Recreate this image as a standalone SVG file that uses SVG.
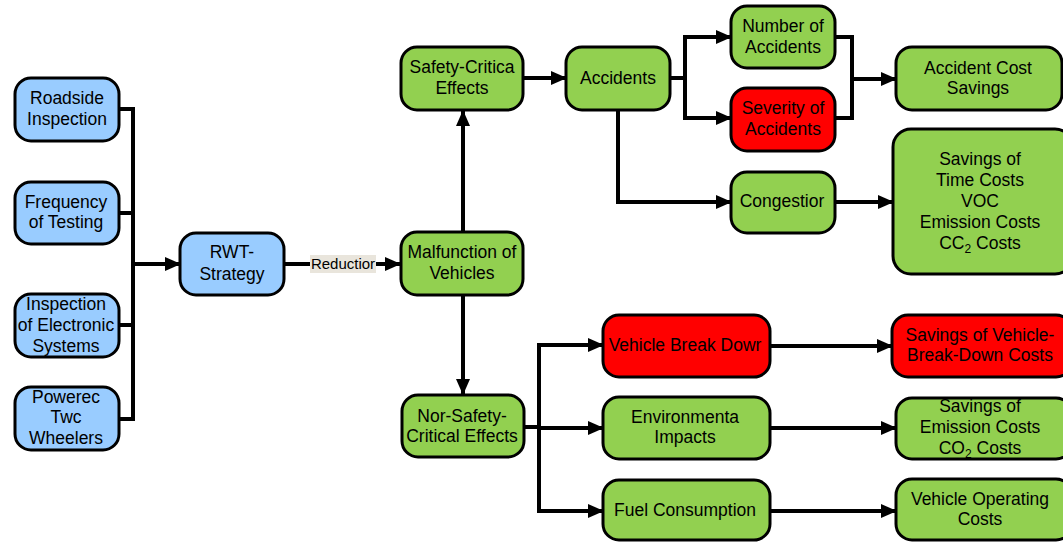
<svg xmlns="http://www.w3.org/2000/svg" width="1063" height="542" viewBox="0 0 1063 542">
  <defs>
    <marker id="arrow" markerUnits="userSpaceOnUse" markerWidth="16" markerHeight="16" viewBox="0 0 16 16" refX="15" refY="8" orient="auto">
      <path d="M0,1 L16,8 L0,15 Z" fill="#000"/>
    </marker>
    <style>
      .node rect { stroke: #000; stroke-width: 3; }
      .blue rect { fill: #99ccff; }
      .green rect { fill: #92d050; }
      .red rect { fill: #ff0000; }
      text { font-family: "Liberation Sans", Arial, sans-serif; font-size: 17.5px; fill: #000; text-anchor: middle; }
      .conn path, .conn line { fill: none; stroke: #000; stroke-width: 4; }
      .sub { font-size: 12px; }
    </style>
  </defs>

  <rect width="1063" height="542" fill="#fff"/>

  <!-- connectors -->
  <g id="connectors" class="conn">
    <!-- inputs into the bus -->
    <path d="M119,109 H133 M119,213 H133 M119,325 H133 M119,419 H133 M133,107 V421"/>
    <line x1="133" y1="264" x2="180" y2="264" marker-end="url(#arrow)"/>
    <!-- RWT-Strategy to malfunction -->
    <line x1="285" y1="264" x2="400" y2="264" marker-end="url(#arrow)"/>
    <!-- malfunction up / down -->
    <line x1="463" y1="232" x2="463" y2="111" marker-end="url(#arrow)"/>
    <line x1="463" y1="296" x2="463" y2="394" marker-end="url(#arrow)"/>
    <!-- safety-critical to accidents -->
    <line x1="524" y1="78" x2="566" y2="78" marker-end="url(#arrow)"/>
    <!-- accidents fan out -->
    <path d="M670,78 H685 M685,35 V120"/>
    <line x1="685" y1="37" x2="731" y2="37" marker-end="url(#arrow)"/>
    <line x1="685" y1="118" x2="731" y2="118" marker-end="url(#arrow)"/>
    <!-- merge into accident cost savings -->
    <path d="M835,37 H852 V118 H835"/>
    <line x1="852" y1="79" x2="896" y2="79" marker-end="url(#arrow)"/>
    <!-- accidents to congestion -->
    <path d="M618,110 V202 H731" marker-end="url(#arrow)"/>
    <line x1="835" y1="202" x2="893" y2="202" marker-end="url(#arrow)"/>
    <!-- non-safety-critical fan out -->
    <path d="M524,427 H539 M539,343 V513"/>
    <line x1="539" y1="345" x2="603" y2="345" marker-end="url(#arrow)"/>
    <line x1="539" y1="428" x2="603" y2="428" marker-end="url(#arrow)"/>
    <line x1="539" y1="511" x2="603" y2="511" marker-end="url(#arrow)"/>
    <!-- effects to savings -->
    <line x1="770" y1="346" x2="892" y2="346" marker-end="url(#arrow)"/>
    <line x1="770" y1="428" x2="896" y2="428" marker-end="url(#arrow)"/>
    <line x1="770" y1="511" x2="896" y2="511" marker-end="url(#arrow)"/>
  </g>

  <!-- edge label -->
  <g id="label-reduction">
    <rect x="310" y="255" width="66" height="18" fill="#e9e5dc"/>
    <text x="343" y="269" style="font-size:15px">Reductior</text>
  </g>

  <!-- input nodes -->
  <g id="roadside" class="node blue">
    <rect x="15" y="78" width="104" height="63" rx="16"/>
    <text x="67" y="104">Roadside</text>
    <text x="67" y="125">Inspection</text>
  </g>
  <g id="frequency" class="node blue">
    <rect x="15" y="182" width="104" height="62" rx="16"/>
    <text x="66" y="208">Frequency</text>
    <text x="66" y="228">of Testing</text>
  </g>
  <g id="electronic" class="node blue">
    <rect x="15" y="294" width="104" height="63" rx="16"/>
    <text x="66" y="310">Inspection</text>
    <text x="66" y="331">of Electronic</text>
    <text x="66" y="352">Systems</text>
  </g>
  <g id="ptw" class="node blue">
    <rect x="15" y="387" width="104" height="63" rx="16"/>
    <text x="66" y="403">Powerec</text>
    <text x="66" y="423">Twc</text>
    <text x="66" y="444">Wheelers</text>
  </g>
  <g id="rwt" class="node blue">
    <rect x="180" y="233" width="104" height="62" rx="16"/>
    <text x="232" y="258">RWT-</text>
    <text x="232" y="280">Strategy</text>
  </g>

  <!-- central nodes -->
  <g id="malfunction" class="node green">
    <rect x="401" y="232" width="122" height="63" rx="16"/>
    <text x="462" y="258">Malfunction of</text>
    <text x="462" y="279">Vehicles</text>
  </g>
  <g id="safety-critical" class="node green">
    <rect x="401" y="47" width="122" height="63" rx="16"/>
    <text x="462" y="73">Safety-Critica</text>
    <text x="462" y="94">Effects</text>
  </g>
  <g id="non-safety-critical" class="node green">
    <rect x="402" y="395" width="122" height="62" rx="16"/>
    <text x="462" y="422">Nor-Safety-</text>
    <text x="462" y="442">Critical Effects</text>
  </g>

  <!-- safety-critical branch -->
  <g id="accidents" class="node green">
    <rect x="566" y="47" width="104" height="63" rx="16"/>
    <text x="618" y="84">Accidents</text>
  </g>
  <g id="number" class="node green">
    <rect x="731" y="6" width="104" height="62" rx="16"/>
    <text x="783" y="32">Number of</text>
    <text x="783" y="53">Accidents</text>
  </g>
  <g id="severity" class="node red">
    <rect x="731" y="88" width="104" height="63" rx="16"/>
    <text x="783" y="114">Severity of</text>
    <text x="783" y="135">Accidents</text>
  </g>
  <g id="congestion" class="node green">
    <rect x="731" y="172" width="104" height="61" rx="16"/>
    <text x="782" y="207">Congestior</text>
  </g>
  <g id="accident-cost" class="node green">
    <rect x="896" y="47" width="166" height="63" rx="16"/>
    <text x="978" y="74">Accident Cost</text>
    <text x="978" y="94">Savings</text>
  </g>
  <g id="time-costs" class="node green">
    <rect x="893" y="129" width="180" height="145" rx="18"/>
    <text x="980" y="165">Savings of</text>
    <text x="980" y="186">Time Costs</text>
    <text x="980" y="207">VOC</text>
    <text x="980" y="228">Emission Costs</text>
    <text x="980" y="249">CC<tspan class="sub" dy="4">2</tspan><tspan dy="-4"> Costs</tspan></text>
  </g>

  <!-- non-safety-critical branch -->
  <g id="breakdown" class="node red">
    <rect x="603" y="315" width="167" height="62" rx="16"/>
    <text x="685" y="351">Vehicle Break Dowr</text>
  </g>
  <g id="environmental" class="node green">
    <rect x="603" y="397" width="167" height="62" rx="16"/>
    <text x="685" y="423">Environmenta</text>
    <text x="685" y="443">Impacts</text>
  </g>
  <g id="fuel" class="node green">
    <rect x="603" y="480" width="167" height="60" rx="16"/>
    <text x="685" y="516">Fuel Consumption</text>
  </g>
  <g id="breakdown-costs" class="node red">
    <rect x="892" y="315" width="180" height="62" rx="16"/>
    <text x="980" y="341">Savings of Vehicle-</text>
    <text x="980" y="361">Break-Down Costs</text>
  </g>
  <g id="emission-costs" class="node green">
    <rect x="896" y="398" width="176" height="61" rx="16"/>
    <text x="980" y="412">Savings of</text>
    <text x="980" y="433">Emission Costs</text>
    <text x="980" y="454">CO<tspan class="sub" dy="4">2</tspan><tspan dy="-4"> Costs</tspan></text>
  </g>
  <g id="operating-costs" class="node green">
    <rect x="896" y="479" width="176" height="61" rx="16"/>
    <text x="980" y="505">Vehicle Operating</text>
    <text x="980" y="525">Costs</text>
  </g>
</svg>
